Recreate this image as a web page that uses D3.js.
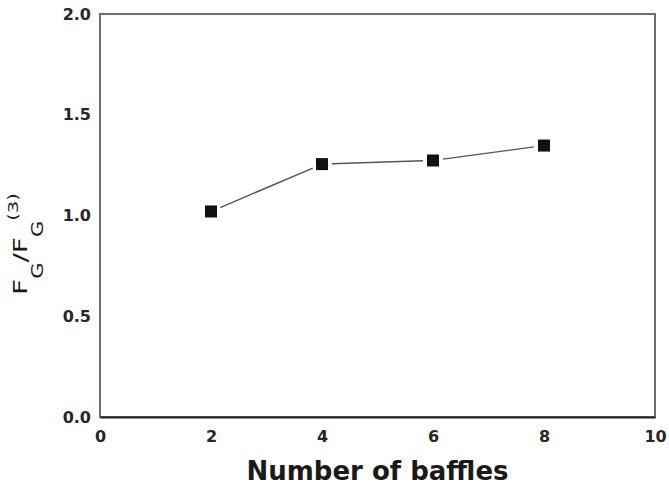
<!DOCTYPE html>
<html>
<head>
<meta charset="utf-8">
<script src="https://cdn.jsdelivr.net/npm/d3@7"></script>
<style>
  body { margin: 0; background: #fff; }
</style>
</head>
<body>
<div id="container"></div>
<script>
// data
var baffles = [2, 4, 6, 8];
var ratio = [1.02, 1.255, 1.273, 1.347];
var xTicks = [0, 2, 4, 6, 8, 10];
var yTicks = [0.0, 0.5, 1.0, 1.5, 2.0];

var W = 669, H = 487;
var margin = {top: 14, right: 14, bottom: 70, left: 100};
var width = W - margin.left - margin.right;
var height = H - margin.top - margin.bottom;

var svg = d3.select("#container")
  .append("svg")
  .attr("width", W)
  .attr("height", H)
  .append("g")
  .attr("transform", "translate(" + margin.left + "," + margin.top + ")");

var x = d3.scaleLinear().domain([0, 10]).range([0, width]);
var y = d3.scaleLinear().domain([0, 2]).range([height, 0]);

// frame
svg.append("rect")
  .attr("x", 0).attr("y", 0)
  .attr("width", width).attr("height", height)
  .attr("fill", "none")
  .attr("stroke", "#6e6e6e")
  .attr("stroke-width", 2);

// x axis
var gx = svg.append("g")
  .attr("transform", "translate(0," + height + ")")
  .call(d3.axisBottom(x).tickValues(xTicks).tickSize(0).tickPadding(14).tickFormat(d3.format("d")));
gx.select(".domain").attr("stroke", "#222").attr("stroke-width", 2);

// y axis
var gy = svg.append("g")
  .call(d3.axisLeft(y).tickValues(yTicks).tickSize(0).tickPadding(9).tickFormat(d3.format(".1f")));
gy.select(".domain").remove();

svg.selectAll(".tick text")
  .attr("font-family", "DejaVu Sans, sans-serif")
  .attr("font-weight", "bold")
  .attr("font-size", "16px")
  .attr("fill", "#262626");

// line segments, stopped short of the markers
var pts = baffles.map(function(d, i) { return [x(d), y(ratio[i])]; });
var gap = 10;
var segs = [];
for (var i = 0; i < pts.length - 1; i++) {
  var a = pts[i], b = pts[i + 1];
  var dx = b[0] - a[0], dy = b[1] - a[1];
  var len = Math.sqrt(dx * dx + dy * dy);
  segs.push([a[0] + dx / len * gap, a[1] + dy / len * gap, b[0] - dx / len * gap, b[1] - dy / len * gap]);
}
svg.append("g")
  .selectAll("line")
  .data(segs)
  .enter().append("line")
  .attr("x1", function(d) { return d[0]; })
  .attr("y1", function(d) { return d[1]; })
  .attr("x2", function(d) { return d[2]; })
  .attr("y2", function(d) { return d[3]; })
  .attr("stroke", "#555")
  .attr("stroke-width", 1.4);

// square markers
var ms = 12;
svg.append("g")
  .selectAll("rect")
  .data(baffles)
  .enter().append("rect")
  .attr("x", function(d) { return x(d) - ms / 2; })
  .attr("y", function(d, i) { return y(ratio[i]) - ms / 2; })
  .attr("width", ms)
  .attr("height", ms)
  .attr("fill", "#111");

// x axis title
svg.append("text")
  .attr("x", width / 2)
  .attr("y", height + 63)
  .attr("text-anchor", "middle")
  .attr("font-family", "DejaVu Sans, sans-serif")
  .attr("font-weight", "bold")
  .attr("font-size", "26px")
  .attr("fill", "#1a1a1a")
  .text("Number of baffles");

// y axis title F_G/F_G^(3), stretched along the text like the original
var yl = d3.select("svg").append("text")
  .attr("transform", "translate(27,244) rotate(-90) scale(1.4,1)")
  .attr("text-anchor", "middle")
  .attr("font-family", "DejaVu Sans, sans-serif")
  .attr("font-size", "20px")
  .attr("fill", "#1a1a1a");
yl.append("tspan").text("F");
yl.append("tspan").attr("dy", 16).attr("font-size", "15px").text("G");
yl.append("tspan").attr("dy", -16).text("/F");
yl.append("tspan").attr("dy", 16).attr("font-size", "15px").text("G");
yl.append("tspan").attr("dy", -25).attr("font-size", "14px").text("(3)");
</script>
</body>
</html>
